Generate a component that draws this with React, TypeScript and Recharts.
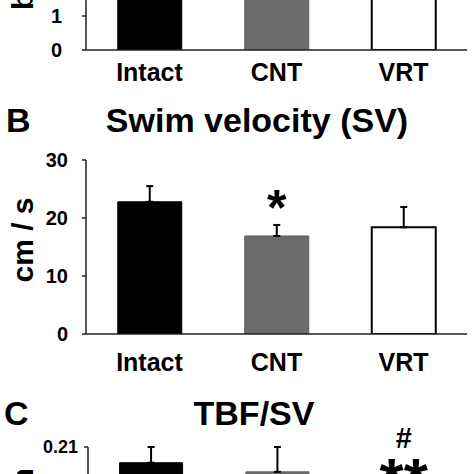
import { BarChart, Bar, XAxis, YAxis, ErrorBar, Cell, LabelList } from 'recharts';

const categories = ['Intact', 'CNT', 'VRT'];

// A: tail beat frequency (only the bottom of this panel is in view)
const tbfMeans = [4.3, 4.0, 4.1];
const tbfErrors = [0.3, 0.3, 0.4];
const tbfTicks = [0, 1, 2, 3, 4, 5];

// B: swim velocity
const svMeans = [22.8, 16.9, 18.4];
const svErrors = [2.7, 1.9, 3.5];
const svMarks = ['', '*', ''];
const svTicks = [0, 10, 20, 30];

// C: TBF/SV (cut off at the bottom)
const ratioMeans = [0.191, 0.18, 0.135];
const ratioErrors = [0.019, 0.03, 0.017];
const ratioMarks = ['', '', '**'];
const ratioHashes = ['', '', '#'];
const ratioTicks = [0, 0.07, 0.14, 0.21];

const FONT = '"Liberation Sans", Arial, sans-serif';
const fills = ['#000000', '#6b6b6b', '#ffffff'];
const strokes = ['#000000', '#5e5e5e', '#000000'];

const build = (means: number[], errors: number[], marks?: string[], hashes?: string[]) =>
  categories.map((name, i) => ({
    name,
    mean: means[i],
    err: [0, errors[i]],
    mark: marks ? marks[i] : '',
    hash: hashes ? hashes[i] : '',
  }));

const makeMark = (rows: any[], markSize: number, hashSize: number) => (props: any) => {
  const { x, y, width, height, index } = props;
  const row = rows[index];
  if (!row || !row.mark) return null;
  const perUnit = Number(height) / row.mean;
  const errTop = Number(y) - row.err[1] * perUnit;
  const cx = Number(x) + Number(width) / 2;
  // centre of the star glyphs sits about 26px above the error cap
  const centre = errTop - 26;
  return (
    <g>
      <text x={cx} y={centre + markSize * 0.52} textAnchor="middle" fontSize={markSize} fontWeight="bold" fontFamily={FONT} fill="#000">
        {row.mark}
      </text>
      {row.hash ? (
        <text x={cx} y={centre - 21} textAnchor="middle" fontSize={hashSize} fontWeight="bold" fontFamily={FONT} fill="#000">
          {row.hash}
        </text>
      ) : null}
    </g>
  );
};

type PanelProps = {
  top: number;
  plotHeight: number;
  yWidth: number;
  ticks: number[];
  rows: any[];
  yTickMargin: number;
  yTickSize: number;
  xTickMargin: number;
  markSize?: number;
  hashSize?: number;
};

const Panel = ({ top, plotHeight, yWidth, ticks, rows, yTickMargin, yTickSize, xTickMargin, markSize = 48, hashSize = 24 }: PanelProps) => {
  const marginTop = 40;
  const xHeight = 50;
  return (
    <div style={{ position: 'absolute', left: 0, top }}>
      <BarChart
        width={474}
        height={marginTop + plotHeight + xHeight}
        data={rows}
        margin={{ top: marginTop, right: 7, left: 0, bottom: 0 }}
        barCategoryGap="25%"
      >
        <XAxis
          dataKey="name"
          height={xHeight}
          tickLine={false}
          tickSize={0}
          tickMargin={xTickMargin}
          interval={0}
          axisLine={{ stroke: '#222', strokeWidth: 1.5 }}
          tick={{ fill: '#000', fontSize: 25, fontWeight: 'bold', fontFamily: FONT }}
        />
        <YAxis
          width={yWidth}
          domain={[ticks[0], ticks[ticks.length - 1]]}
          ticks={ticks}
          tickSize={4}
          tickMargin={yTickMargin}
          interval={0}
          allowDataOverflow
          axisLine={{ stroke: '#222', strokeWidth: 1.5 }}
          tickLine={{ stroke: '#222', strokeWidth: 1.5 }}
          tick={{ fill: '#000', fontSize: yTickSize, fontWeight: 'bold', fontFamily: FONT }}
        />
        <Bar dataKey="mean" isAnimationActive={false}>
          {rows.map((r, i) => (
            <Cell key={r.name} fill={fills[i]} stroke={strokes[i]} strokeWidth={i === 2 ? 2 : 1} />
          ))}
          <ErrorBar dataKey="err" width={3.5} stroke="#000" strokeWidth={2} direction="y" />
          <LabelList dataKey="mark" content={makeMark(rows, markSize, hashSize)} />
        </Bar>
      </BarChart>
    </div>
  );
};

const tbfRows = build(tbfMeans, tbfErrors);
const svRows = build(svMeans, svErrors, svMarks);
const ratioRows = build(ratioMeans, ratioErrors, ratioMarks, ratioHashes);

const textStyle = { fontFamily: FONT, fontWeight: 'bold' as const, fill: '#000' };

export default function App() {
  return (
    <div style={{ position: 'absolute', left: 0, top: 0, width: 474, height: 474, overflow: 'hidden', background: '#fff' }}>
      <Panel top={-160} plotHeight={170} yWidth={86} ticks={tbfTicks} rows={tbfRows} yTickMargin={20} yTickSize={20} xTickMargin={13} />
      <Panel top={120} plotHeight={174} yWidth={86} ticks={svTicks} rows={svRows} yTickMargin={14} yTickSize={20} xTickMargin={19} markSize={50} />
      <Panel top={407} plotHeight={174} yWidth={88} ticks={ratioTicks} rows={ratioRows} yTickMargin={6} yTickSize={18} xTickMargin={19} markSize={62} hashSize={29} />
      <svg width={474} height={474} style={{ position: 'absolute', left: 0, top: 0, pointerEvents: 'none' }}>
        <text x={33} y={10} transform="rotate(-90 33 10)" textAnchor="start" fontSize={30} {...textStyle}>beats / s</text>

        <text x={6} y={132} fontSize={34} {...textStyle}>B</text>
        <text x={257} y={132} textAnchor="middle" fontSize={34} {...textStyle}>Swim velocity (SV)</text>
        <text x={33} y={240} transform="rotate(-90 33 240)" textAnchor="middle" fontSize={30} {...textStyle}>cm / s</text>

        <text x={4} y={425} fontSize={34} {...textStyle}>C</text>
        <text x={254} y={425} textAnchor="middle" fontSize={34} {...textStyle}>TBF/SV</text>
        <text x={33} y={468} transform="rotate(-90 33 468)" textAnchor="end" fontSize={30} {...textStyle}>beats / cm</text>
      </svg>
    </div>
  );
}
